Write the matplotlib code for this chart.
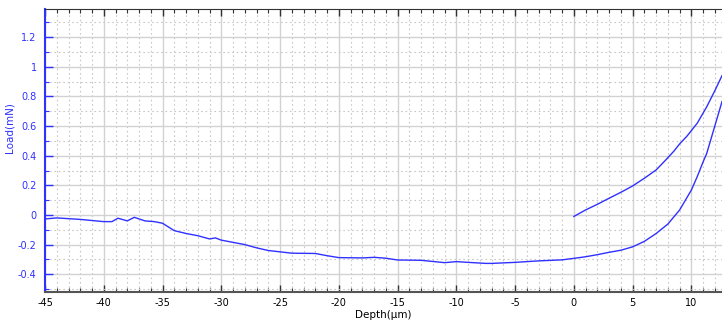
import numpy as np
import matplotlib.pyplot as plt
from matplotlib.ticker import MultipleLocator, FormatStrFormatter

# loading curve (depth in um, load in mN)
load_x = [-45, -44, -42, -40, -39.3, -38.8, -38, -37.4, -36.5, -35.7, -35, -34, -33, -32,
          -31, -30.5, -30, -29, -28, -27, -26, -25, -24, -22, -21, -20, -18, -17, -16,
          -15, -13, -11, -10, -9, -7.5, -7, -5, -3, -1, 0, 1, 2, 3, 4, 5, 6, 7, 8, 9,
          10, 10.5, 11, 11.3, 12.6]
load_y = [-0.027, -0.02, -0.03, -0.045, -0.045, -0.022, -0.04, -0.016, -0.04, -0.045,
          -0.056, -0.106, -0.125, -0.14, -0.162, -0.155, -0.17, -0.185, -0.2, -0.222,
          -0.24, -0.249, -0.258, -0.26, -0.275, -0.288, -0.29, -0.286, -0.292, -0.304,
          -0.306, -0.322, -0.315, -0.32, -0.327, -0.327, -0.32, -0.31, -0.303, -0.293,
          -0.282, -0.268, -0.252, -0.238, -0.215, -0.178, -0.125, -0.061, 0.034,
          0.169, 0.26, 0.36, 0.415, 0.765]

# unloading curve
unload_x = [0, 1, 2, 3, 4, 5, 6, 7, 7.8, 8.5, 9, 9.6, 10.5, 11.3, 12, 12.6]
unload_y = [-0.01, 0.034, 0.072, 0.113, 0.153, 0.196, 0.248, 0.304, 0.37, 0.43, 0.48,
            0.53, 0.62, 0.73, 0.84, 0.94]

blue = '#3030ff'

fig = plt.figure(figsize=(7.22, 3.23), dpi=100)
ax = fig.add_axes([45 / 722, 31 / 323, 677 / 722, 283 / 323])

ax.plot(load_x, load_y, color=blue, lw=1.0)
ax.plot(unload_x, unload_y, color=blue, lw=1.0)

ax.set_xlim(-45, 12.6)
ax.set_ylim(-0.52, 1.39)

ax.xaxis.set_major_locator(MultipleLocator(5))
ax.xaxis.set_minor_locator(MultipleLocator(1))
ax.yaxis.set_major_locator(MultipleLocator(0.2))
ax.yaxis.set_minor_locator(MultipleLocator(0.1))
ax.xaxis.set_major_formatter(FormatStrFormatter('%g'))
ax.yaxis.set_major_formatter(FormatStrFormatter('%g'))

ax.grid(True, which='major', color='#d2d2d2', lw=1.0)
ax.grid(True, which='minor', color='#c8c8c8', lw=0.8, ls=(0, (1.5, 2.5)))
ax.set_axisbelow(True)

ax.tick_params(axis='x', which='both', direction='in', top=True, labelsize=7,
               colors='#333333', labelcolor='black', pad=4)
ax.tick_params(axis='x', which='major', length=5, width=1)
ax.tick_params(axis='x', which='minor', length=3, width=0.8)
ax.tick_params(axis='y', which='both', direction='in', colors=blue, labelsize=7, pad=6)
ax.tick_params(axis='y', which='major', length=6, width=1)
ax.tick_params(axis='y', which='minor', length=3, width=0.8)

ax.spines['left'].set_color(blue)
ax.spines['left'].set_linewidth(1.5)
ax.spines['bottom'].set_color('#555555')
ax.spines['bottom'].set_linewidth(1.5)
ax.spines['top'].set_color('#333333')
ax.spines['right'].set_visible(False)

ax.set_xlabel('Depth(µm)', fontsize=7.5, labelpad=2)
ax.set_ylabel('Load(mN)', fontsize=7.5, color=blue)
ax.yaxis.set_label_coords(-0.045, 0.58)

fig.savefig('out.png', dpi=100)
